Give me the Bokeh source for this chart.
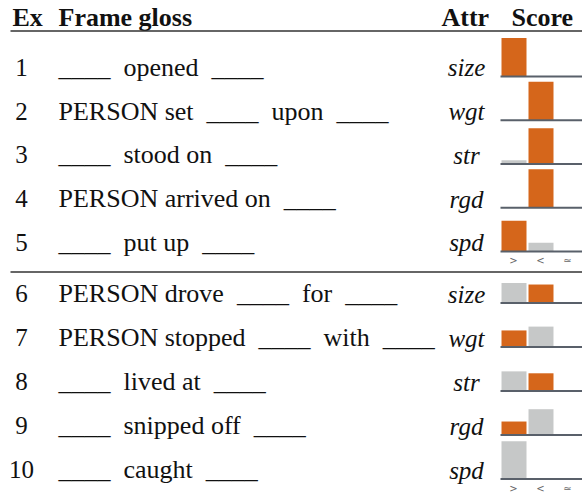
from bokeh.plotting import figure
from bokeh.models import Range1d, ColumnDataSource
from bokeh.core.properties import value
from bokeh.embed import file_html
from bokeh.resources import INLINE

# ---------------- data ----------------
B = "____"          # blank slot in a frame
G = "\u00a0\u00a0"  # wide gap around a blank
ex_ids = ["1", "2", "3", "4", "5", "6", "7", "8", "9", "10"]
glosses = [
    B + G + "opened" + G + B,
    "PERSON set" + G + B + G + "upon" + G + B,
    B + G + "stood on" + G + B,
    "PERSON arrived on" + G + B,
    B + G + "put up" + G + B,
    "PERSON drove" + G + B + G + "for" + G + B,
    "PERSON stopped" + G + B + G + "with" + G + B,
    B + G + "lived at" + G + B,
    B + G + "snipped off" + G + B,
    B + G + "caught" + G + B,
]
attrs = ["size", "wgt", "str", "rgd", "spd", "size", "wgt", "str", "rgd", "spd"]
rel_labels = [">", "<", "≃"]
score_gt = [1.00, 0.00, 0.10, 0.00, 0.80, 0.52, 0.43, 0.51, 0.35, 0.98]
score_lt = [0.00, 1.00, 0.93, 1.00, 0.23, 0.48, 0.53, 0.46, 0.67, 0.00]
score_sim = [0.00, 0.00, 0.00, 0.00, 0.00, 0.00, 0.00, 0.00, 0.00, 0.00]
gold = [">", "<", "<", "<", ">", "<", ">", "<", ">", "≃"]

# ---------------- layout ----------------
W, H = 582, 495
ORANGE = "#D5661B"
GRAY = "#C6C8C8"
SERIF = "'Liberation Serif', 'DejaVu Serif', serif"
TXT = "#111111"

baselines = [76 + 43.75 * i for i in range(5)] + [302.5 + 44 * i for i in range(5)]
BAR_H = 38.5
SLOT0, SLOT_STEP, BAR_W = 513.5, 27, 25

def ty(y, size):
    # rendered alphabetic text sits a bit low; compensate
    return y - 0.35 * size

p = figure(width=W, height=H, output_backend="svg", toolbar_location=None,
           x_range=Range1d(0, W), y_range=Range1d(H, 0),
           min_border=0, outline_line_color=None)
p.axis.visible = False
p.grid.visible = False
p.background_fill_color = "white"
p.border_fill_color = "white"

# header
HS = 26
p.text(x=[12, 58, 441, 511], y=[ty(26, HS)] * 4, text=["Ex", "Frame gloss", "Attr", "Score"],
       text_font=value(SERIF), text_font_style="bold", text_font_size=f"{HS}px",
       text_baseline="alphabetic", text_color=TXT)
p.segment(x0=[10, 10], y0=[30.5, 271.5], x1=[582, 582], y1=[30.5, 271.5],
          line_color="#333333", line_width=1.4)

# rows
RS = 26
AS = 25
src = ColumnDataSource(dict(ex=ex_ids, gloss=glosses, attr=attrs,
                            y=[ty(b, RS) for b in baselines],
                            ya=[ty(b, AS) for b in baselines]))
p.text(x=21, y="y", text="ex", source=src, text_font=value(SERIF), text_font_size="25px",
       text_align="center", text_baseline="alphabetic", text_color=TXT)
p.text(x=58, y="y", text="gloss", source=src, text_font=value(SERIF), text_font_size=f"{RS}px",
       text_baseline="alphabetic", text_color=TXT)
p.text(x=466, y="ya", text="attr", source=src, text_font=value(SERIF), text_font_size=f"{AS}px",
       text_font_style="italic", text_align="center", text_baseline="alphabetic",
       text_color=TXT)

# bars
bx, btop, bbot, bcol = [], [], [], []
for i, b in enumerate(baselines):
    for j, vals in enumerate([score_gt, score_lt, score_sim]):
        v = vals[i]
        if v <= 0:
            continue
        bx.append(SLOT0 + SLOT_STEP * j)
        bbot.append(b)
        btop.append(b - v * BAR_H)
        bcol.append(ORANGE if gold[i] == rel_labels[j] else GRAY)
p.vbar(x=bx, top=btop, bottom=bbot, width=BAR_W, fill_color=bcol, line_color=None)

# baselines under bars
p.segment(x0=[500] * 10, x1=[582] * 10, y0=baselines, y1=baselines,
          line_color="#59606A", line_width=2)

# relation tick labels under each group
for yb in [baselines[4], baselines[9]]:
    p.text(x=[SLOT0 - 0.5 + SLOT_STEP * j for j in range(3)], y=[yb + 9] * 3, text=rel_labels,
           text_font=value("DejaVu Sans"), text_font_size="10px", text_align="center",
           text_baseline="middle", text_color="#666666")

open("out.html", "w").write(file_html(p, INLINE))
